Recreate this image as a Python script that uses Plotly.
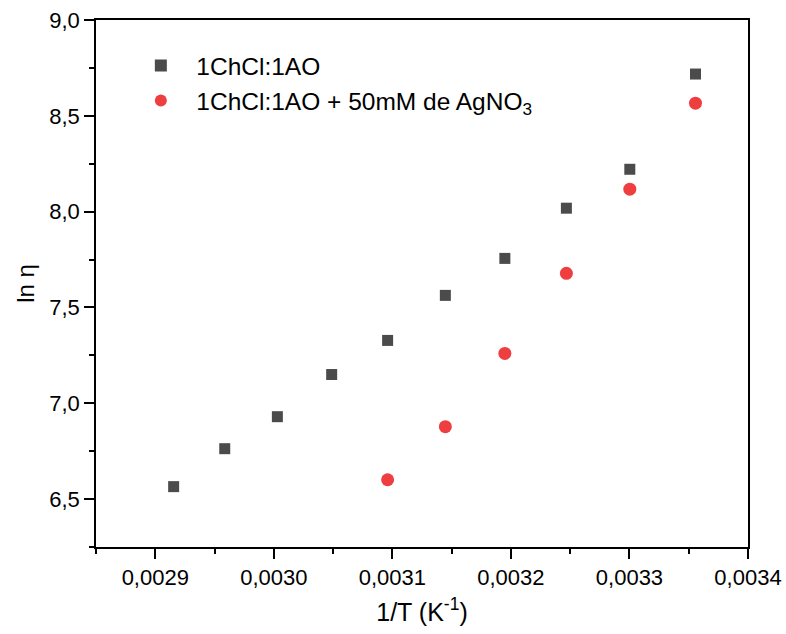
import plotly.graph_objects as go

# 1/T values (K^-1)
x_pure = [0.0029155, 0.0029586, 0.0030030, 0.0030488, 0.0030960,
          0.0031447, 0.0031949, 0.0032468, 0.0033003, 0.0033557]
ln_eta_pure = [6.565, 6.763, 6.930, 7.150, 7.328, 7.563, 7.756, 8.018, 8.221, 8.718]

x_ag = [0.0030960, 0.0031447, 0.0031949, 0.0032468, 0.0033003, 0.0033557]
ln_eta_ag = [6.601, 6.878, 7.260, 7.678, 8.117, 8.566]

name_pure = "1ChCl:1AO"
name_ag = "1ChCl:1AO + 50mM de AgNO<sub>3</sub>"

x_ticks = [0.0029, 0.0030, 0.0031, 0.0032, 0.0033, 0.0034]
y_ticks = [6.5, 7.0, 7.5, 8.0, 8.5, 9.0]

FONT = "Arial, Liberation Sans, sans-serif"

fig = go.Figure()
fig.add_trace(go.Scatter(x=x_pure, y=ln_eta_pure, mode="markers", name=name_pure,
                         marker=dict(symbol="square", size=11, color="#4b4b4b")))
fig.add_trace(go.Scatter(x=x_ag, y=ln_eta_ag, mode="markers", name=name_ag,
                         marker=dict(symbol="circle", size=13, color="#ef3e3f")))

axis_common = dict(showline=True, linecolor="black", linewidth=1.5, mirror=True,
                   showgrid=False, zeroline=False, ticks="outside", ticklen=10,
                   tickwidth=1.5, tickcolor="black", automargin=False,
                   tickfont=dict(family=FONT, size=22, color="black"))

fig.update_xaxes(range=[0.00285, 0.0034], tickvals=x_ticks, tickformat=".4f",
                 minor=dict(dtick=0.00005, ticks="outside", ticklen=5, tickwidth=1.5, tickcolor="black", tick0=0.00285),
                 title=dict(text="1/T (K<sup>-1</sup>)", font=dict(family=FONT, size=25, color="black"), standoff=14),
                 **axis_common)
fig.update_yaxes(range=[6.25, 9.0], tickvals=y_ticks, tickformat=".1f",
                 minor=dict(dtick=0.25, ticks="outside", ticklen=5, tickwidth=1.5, tickcolor="black", tick0=6.25),
                 title=dict(text="ln η", font=dict(family=FONT, size=24, color="black"), standoff=8),
                 **axis_common)

fig.update_layout(
    width=786, height=634,
    margin=dict(l=96, r=38, t=20, b=87),
    plot_bgcolor="white", paper_bgcolor="white",
    separators=", ",
    font=dict(family=FONT, color="black"),
    legend=dict(x=0.045, y=0.956, xanchor="left", yanchor="top",
                bgcolor="rgba(0,0,0,0)", font=dict(family=FONT, size=24.5, color="black"),
                tracegroupgap=0, itemsizing="constant", itemwidth=61),
    showlegend=True,
)

fig.write_html("out.html")
